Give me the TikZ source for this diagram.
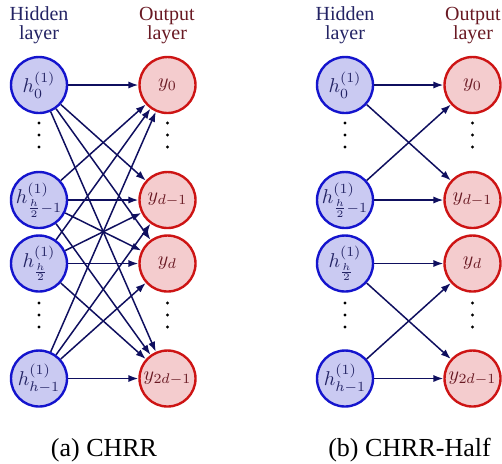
\documentclass[tikz,border=0pt]{standalone}
\usepackage[no-math]{fontspec}
\setmainfont{Liberation Serif}
\usetikzlibrary{arrows.meta}
\definecolor{hidfill}{RGB}{202,202,242}
\definecolor{hiddraw}{RGB}{20,20,205}
\definecolor{hidtext}{RGB}{35,35,100}
\definecolor{outfill}{RGB}{244,204,206}
\definecolor{outdraw}{RGB}{205,20,20}
\definecolor{outtext}{RGB}{105,25,35}
\definecolor{conncol}{RGB}{15,15,95}
\tikzset{
  neuron/.style={circle,inner sep=0pt,minimum size=28pt,line width=1.2pt},
  hid/.style={neuron,draw=hiddraw,fill=hidfill,text=hidtext},
  outn/.style={neuron,draw=outdraw,fill=outfill,text=outtext},
  conn/.style={draw=conncol,line width=0.75pt,-{Latex[length=5pt,width=3.6pt]}},
  hdrh/.style={anchor=base,text=hidtext,font=\fontsize{10}{12}\selectfont,inner sep=0pt},
  hdro/.style={anchor=base,text=outtext,font=\fontsize{10}{12}\selectfont,inner sep=0pt},
  capt/.style={anchor=base,font=\fontsize{13}{15}\selectfont,inner sep=0pt},
  vdot/.style={fill=black}
}
\newcommand{\nz}[1]{\makebox[0pt]{$#1$}}
\begin{document}
\begin{tikzpicture}[x=0.5pt,y=-0.5pt]
\useasboundingbox (0,0) rectangle (502,463);
% ---------- panel (a)
\node[hdrh] (ha1) at (39,20) {Hidden};
\node[hdrh] (ha2) at (39,39) {layer};
\node[hdro] (oa1) at (167,20) {Output};
\node[hdro] (oa2) at (167,39) {layer};
\node[hid] (a0) at (39,85) {\nz{h_0^{(1)}}};
\node[hid] (a1) at (39,200) {\nz{h_{\frac{h}{2}-1}^{(1)}}};
\node[hid] (a2) at (39,263.5) {\nz{h_{\frac{h}{2}}^{(1)}}};
\node[hid] (a3) at (39,378.5) {\nz{h_{h-1}^{(1)}}};
\node[outn] (b0) at (167.5,85) {\nz{y_0}};
\node[outn] (b1) at (167.5,200) {\nz{y_{d-1}}};
\node[outn] (b2) at (167.5,263.5) {\nz{y_d}};
\node[outn] (b3) at (167.5,378.5) {\nz{y_{2d-1}}};
\foreach \i in {0,1,2,3}{
  \foreach \j in {0,1,2,3}{
    \draw[conn] (a\i) -- (b\j);
  }
}
\node[capt] (capa) at (104,456) {(a) CHRR};
% ---------- panel (b)
\node[hdrh] (hb1) at (345,20) {Hidden};
\node[hdrh] (hb2) at (345,39) {layer};
\node[hdro] (ob1) at (473,20) {Output};
\node[hdro] (ob2) at (473,39) {layer};
\node[hid] (c0) at (345,85) {\nz{h_0^{(1)}}};
\node[hid] (c1) at (345,200) {\nz{h_{\frac{h}{2}-1}^{(1)}}};
\node[hid] (c2) at (345,263.5) {\nz{h_{\frac{h}{2}}^{(1)}}};
\node[hid] (c3) at (345,378.5) {\nz{h_{h-1}^{(1)}}};
\node[outn] (d0) at (472.5,85) {\nz{y_0}};
\node[outn] (d1) at (472.5,200) {\nz{y_{d-1}}};
\node[outn] (d2) at (472.5,263.5) {\nz{y_d}};
\node[outn] (d3) at (472.5,378.5) {\nz{y_{2d-1}}};
\draw[conn] (c0) -- (d0);
\draw[conn] (c0) -- (d1);
\draw[conn] (c1) -- (d0);
\draw[conn] (c1) -- (d1);
\draw[conn] (c2) -- (d2);
\draw[conn] (c2) -- (d3);
\draw[conn] (c3) -- (d2);
\draw[conn] (c3) -- (d3);
\node[capt] (capb) at (409.5,456) {(b) CHRR-Half};
% ---------- vertical dots
\foreach \x in {39,167.5,345,472.5}{
  \foreach \y in {123,135,147,303,315,327}{
    \fill[vdot] (\x,\y) circle (0.8pt);
  }
}
\end{tikzpicture}
\end{document}
